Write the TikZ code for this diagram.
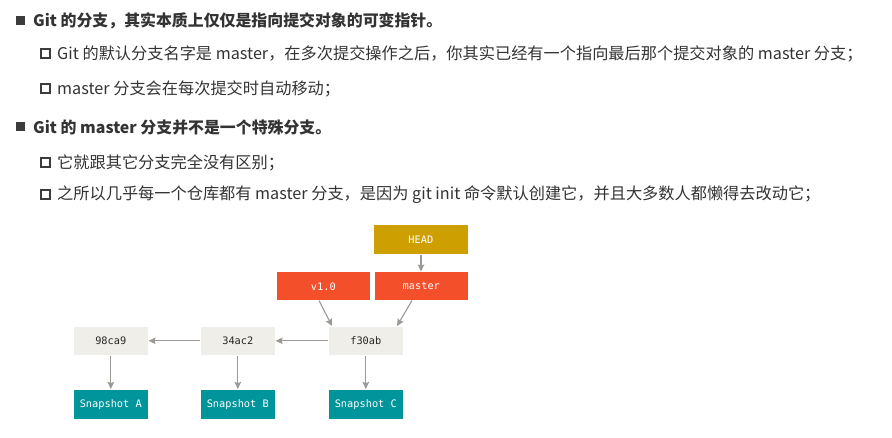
\documentclass[tikz,border=0pt]{standalone}
\usepackage{fontspec}
\setmainfont{Noto Sans CJK SC}
\newfontfamily\monofont{DejaVu Sans Mono}
\usetikzlibrary{arrows.meta}
\definecolor{txt}{HTML}{333333}
\definecolor{bul}{HTML}{3C3C3C}
\definecolor{headc}{HTML}{CD9F00}
\definecolor{branchc}{HTML}{F34F2B}
\definecolor{commitc}{HTML}{EFEEE8}
\definecolor{snapc}{HTML}{00949B}
\definecolor{arrc}{HTML}{9C9893}
\tikzset{
  mainline/.style={anchor=west, inner sep=0pt, text=txt, font=\fontsize{15.9}{18}\selectfont\bfseries},
  subline/.style={anchor=west, inner sep=0pt, text=txt, font=\fontsize{16.2}{18}\selectfont},
  mainbul/.style={fill=bul, draw=none, minimum size=9pt, inner sep=0pt},
  subbul/.style={draw=bul, line width=2pt, fill=white, minimum size=9pt, inner sep=0pt},
  gbox/.style={anchor=north west, inner sep=0pt, font=\monofont\fontsize{10.3}{12}\selectfont, draw=white, line width=0.6pt},
  commit/.style={gbox, fill=commitc, text=black!85, minimum width=75pt, minimum height=29pt},
  snap/.style={gbox, fill=snapc, text=white, minimum width=75pt, minimum height=30pt},
  branch/.style={gbox, fill=branchc, text=white, minimum width=94pt, minimum height=29pt},
  headbox/.style={gbox, fill=headc, text=white, minimum width=95pt, minimum height=30pt},
  arr/.style={draw=arrc, line width=1.1pt, -{Stealth[length=7pt,width=6.5pt,inset=1pt]}}
}
\begin{document}
\begin{tikzpicture}[x=1pt,y=-1pt]
\useasboundingbox (0,0) rectangle (892,438);
% text
\node[mainbul] (b1) at (20.5,21) {};
\node[mainline] (t1) at (33,21) {Git 的分支，其实本质上仅仅是指向提交对象的可变指针。};
\node[subbul] (b2) at (45,54) {};
\node[subline] (t2) at (57,54) {Git 的默认分支名字是 master，在多次提交操作之后，你其实已经有一个指向最后那个提交对象的 master 分支；};
\node[subbul] (b3) at (45,89) {};
\node[subline] (t3) at (57,89) {master 分支会在每次提交时自动移动；};
\node[mainbul] (b4) at (20.5,127) {};
\node[mainline] (t4) at (33,127) {Git 的 master 分支并不是一个特殊分支。};
\node[subbul] (b5) at (45,163) {};
\node[subline] (t5) at (57,163) {它就跟其它分支完全没有区别；};
\node[subbul] (b6) at (45,195) {};
\node[subline] (t6) at (57,195) {之所以几乎每一个仓库都有 master 分支，是因为 git init 命令默认创建它，并且大多数人都懒得去改动它；};
% diagram
\node[headbox] (head) at (373,224) {HEAD};
\node[branch] (v10) at (276,271.5) {v1.0};
\node[branch] (master) at (374,271.5) {master};
\node[commit] (c1) at (73,326) {98ca9};
\node[commit] (c2) at (200,326) {34ac2};
\node[commit] (c3) at (328,326) {f30ab};
\node[snap] (sa) at (73,389) {Snapshot A};
\node[snap] (sb) at (200,389) {Snapshot B};
\node[snap] (sc) at (328,389) {Snapshot C};
\draw[arr] (head.south -| 421,0) -- (master.north -| 421,0);
\draw[arr] (319,300.5) -- (c3.north west -| 332,0);
\draw[arr] (412,300.5) -- (c3.north west -| 397,0);
\draw[arr] (c2.west) -- (c1.east);
\draw[arr] (c3.west) -- (c2.east);
\draw[arr] (c1.south) -- (sa.north);
\draw[arr] (c2.south) -- (sb.north);
\draw[arr] (c3.south) -- (sc.north);
\end{tikzpicture}
\end{document}
